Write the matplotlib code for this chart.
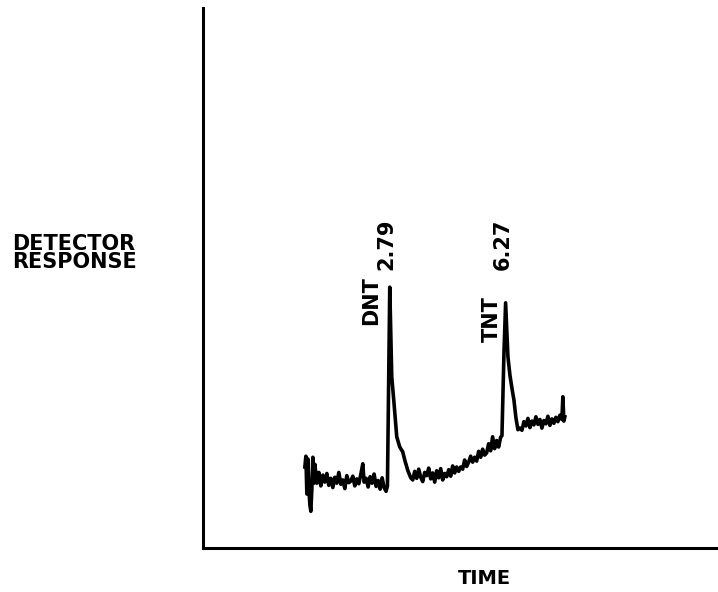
import matplotlib
matplotlib.use("Agg")
import matplotlib.pyplot as plt

# chromatogram trace (time in min, response in arbitrary units)
time = [0.24, 0.27, 0.30, 0.33, 0.36, 0.39, 0.42, 0.45, 0.48, 0.51, 0.54, 0.60, 0.66, 0.72, 0.78,
        0.84, 0.90, 0.96, 1.02, 1.08, 1.14, 1.20, 1.26, 1.32, 1.38, 1.44, 1.50, 1.56, 1.62, 1.68,
        1.74, 1.80, 1.86, 1.92, 1.98, 2.02, 2.08, 2.14, 2.20, 2.26, 2.32, 2.38, 2.44, 2.50, 2.56,
        2.62, 2.68, 2.72, 2.79, 2.85, 2.91, 3.00, 3.09, 3.18, 3.24, 3.33, 3.42,
        3.48, 3.54, 3.60, 3.66, 3.72, 3.78, 3.84, 3.90, 3.96, 4.02, 4.08, 4.14, 4.20, 4.26, 4.32,
        4.38, 4.44, 4.50, 4.56, 4.62, 4.68, 4.74, 4.80, 4.86,
        4.92, 4.98, 5.04, 5.10, 5.16, 5.22, 5.28, 5.34, 5.40, 5.46, 5.52, 5.58, 5.64, 5.70, 5.76,
        5.82, 5.88, 5.94, 6.00, 6.06, 6.12, 6.16, 6.22, 6.27,
        6.34, 6.40, 6.46, 6.52, 6.58, 6.64, 6.70,
        6.76, 6.82, 6.88, 6.94, 7.00, 7.06, 7.12, 7.18, 7.24, 7.30, 7.36, 7.42, 7.48, 7.54, 7.60,
        7.66, 7.72, 7.78, 7.84, 7.90, 7.96, 7.99, 8.02, 8.05]
response = [15.0, 17.0, 10.0, 16.5, 11.0, 8.0, 6.8, 11.0, 16.8, 12.0, 15.5, 12.0, 14.0, 11.5, 13.5,
            12.2, 13.8, 11.6, 12.9, 11.2, 13.1, 12.0, 14.0, 11.8, 12.6, 11.0, 13.4, 12.1, 12.4, 13.3,
            11.5, 12.8, 11.9, 13.6, 15.6, 12.2, 12.9, 11.3, 13.2, 12.0, 13.7, 11.4, 12.5, 10.9, 13.0,
            11.2, 10.5, 11.5, 48.3, 31.7, 27.4, 20.6, 18.7, 17.8, 16.3, 14.4, 13.0,
            12.6, 14.2, 12.9, 14.6, 13.1, 12.3, 14.0, 13.4, 14.8, 12.8, 13.9, 12.2, 14.3, 13.0, 14.7,
            12.6, 13.8, 13.2, 14.5, 13.3, 15.2, 13.9, 15.0, 14.2,
            15.0, 14.6, 16.3, 15.1, 15.9, 17.0, 15.9, 16.8, 16.1, 17.9, 16.8, 18.3, 17.2, 17.6, 19.3,
            18.0, 20.6, 18.4, 19.9, 18.7, 20.5, 20.8, 36.0, 45.4,
            35.4, 32.0, 29.6, 27.4, 24.1, 21.9, 22.2,
            21.8, 23.4, 22.6, 24.0, 22.3, 23.5, 22.8, 24.3, 22.9, 23.8, 22.2, 23.6, 23.0, 24.4, 22.7,
            23.9, 23.1, 24.2, 23.4, 24.6, 23.8, 28.0, 23.5, 24.3]

# peak labels: name, retention time
peak_names = ["DNT", "TNT"]
peak_times = ["2.79", "6.27"]

fig = plt.figure(figsize=(7.18, 5.92), dpi=100)
ax = fig.add_axes([203 / 718, 44 / 592, 515 / 718, 540 / 592])

ax.plot(time, response, color="black", linewidth=2.6, solid_joinstyle="round")

ax.set_xlim(-2.82, 12.65)
ax.set_ylim(0, 100)

# only the left and bottom axis lines, no ticks
ax.spines["top"].set_visible(False)
ax.spines["right"].set_visible(False)
ax.spines["left"].set_linewidth(2.2)
ax.spines["bottom"].set_linewidth(2.2)
ax.set_xticks([])
ax.set_yticks([])

lab = dict(rotation=90, ha="center", va="bottom", fontsize=15,
           fontweight="bold", family="DejaVu Sans")
ax.text(2.22, 41.3, peak_names[0], **lab)
ax.text(2.70, 51.5, peak_times[0], **lab)
ax.text(5.86, 38.1, peak_names[1], **lab)
ax.text(6.19, 51.5, peak_times[1], **lab)

fig.text(12 / 718, 1 - 253 / 592, "DETECTOR\nRESPONSE", ha="left", va="center",
         fontsize=15, fontweight="bold", linespacing=0.9)
fig.text(484 / 718, 1 - 578 / 592, "TIME", ha="center", va="center",
         fontsize=14, fontweight="bold")

fig.savefig("out.png", dpi=100)
